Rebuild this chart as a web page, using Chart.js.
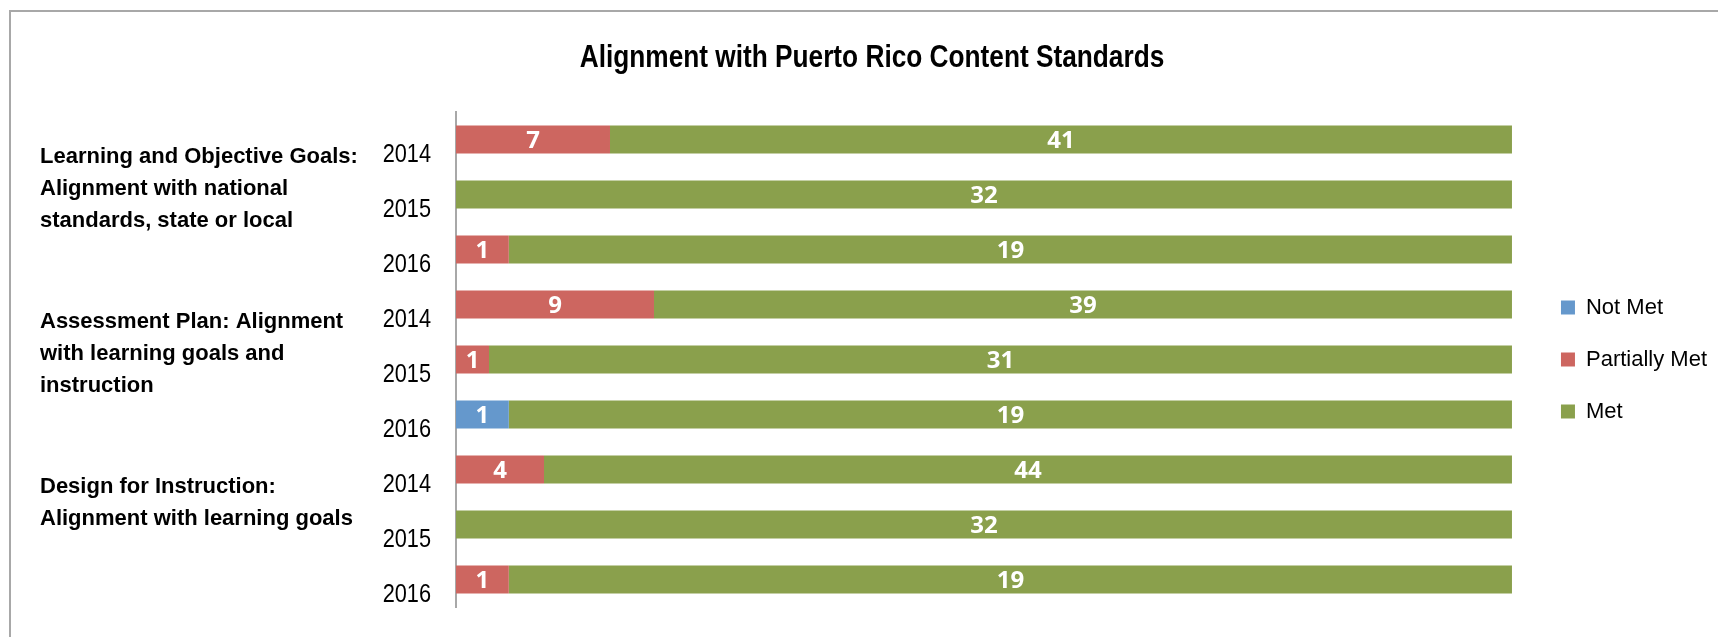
<!DOCTYPE html>
<html>
<head>
<meta charset="utf-8">
<title>Alignment with Puerto Rico Content Standards</title>
<script src="https://cdn.jsdelivr.net/npm/chart.js@4.4.1/dist/chart.umd.min.js"></script>
<style>
  html, body { margin: 0; padding: 0; background: #fff; }
  #wrap { position: relative; width: 1718px; height: 637px; overflow: hidden; }
  #frame { position: absolute; left: 9px; top: 10px; width: 1800px; height: 700px;
           border-left: 2px solid #a8a8a8; border-top: 2px solid #a8a8a8; }
  canvas { position: absolute; left: 0; top: 0; }
</style>
</head>
<body>
<div id="wrap">
  <div id="frame"></div>
  <canvas id="alignChart" width="1718" height="637"></canvas>
</div>
<script>
const chartTitle = 'Alignment with Puerto Rico Content Standards';

// rows top to bottom
const years = ['2014', '2015', '2016', '2014', '2015', '2016', '2014', '2015', '2016'];
const groupLabels = [
  ['Learning and Objective Goals:', 'Alignment with national', 'standards, state or local'],
  ['Assessment Plan: Alignment', 'with learning goals and', 'instruction'],
  ['Design for Instruction:', 'Alignment with learning goals']
];
const groupStartRows = [0, 3, 6];

const notMet       = [0, 0, 0, 0, 0, 1, 0, 0, 0];
const partiallyMet = [7, 0, 1, 9, 1, 0, 4, 0, 1];
const met          = [41, 32, 19, 39, 31, 19, 44, 32, 19];

const regular = '"Liberation Sans", Arial, sans-serif';

// 100% stacked: each row scaled to its own total
const totals = years.map((_, i) => notMet[i] + partiallyMet[i] + met[i]);
const toPct = arr => arr.map((v, i) => v / totals[i] * 100);

// no Arial Narrow here, so squeeze Liberation Sans sideways
function narrowText(ctx, text, x, y, align) {
  ctx.save();
  ctx.translate(x, y);
  ctx.scale(0.82, 1);
  ctx.textAlign = align;
  ctx.fillText(text, 0, 0);
  ctx.restore();
}

// white count labels in the middle of each segment
const barValueLabels = {
  id: 'barValueLabels',
  afterDatasetsDraw(chart) {
    const { ctx } = chart;
    ctx.save();
    ctx.font = 'bold 24px "Open Sans", sans-serif';
    ctx.fillStyle = '#fff';
    ctx.textAlign = 'center';
    ctx.textBaseline = 'middle';
    chart.data.datasets.forEach((ds, di) => {
      chart.getDatasetMeta(di).data.forEach((bar, i) => {
        const n = ds.counts[i];
        if (!n) return;
        ctx.fillText(String(n), (bar.x + bar.base) / 2, bar.y + 2);
      });
    });
    ctx.restore();
  }
};

// title, year ticks and the outer category labels
const axisText = {
  id: 'axisText',
  afterDraw(chart) {
    const { ctx, chartArea } = chart;
    const yScale = chart.scales.y;
    ctx.save();
    ctx.fillStyle = '#000';
    ctx.textBaseline = 'alphabetic';

    ctx.font = 'bold 32px ' + regular;
    narrowText(ctx, chartTitle, 872, 67, 'center');

    ctx.font = '26.5px ' + regular;
    chart.data.labels.forEach((label, i) => {
      narrowText(ctx, label, chartArea.left - 25, yScale.getPixelForValue(i) + 22.5, 'right');
    });

    ctx.font = 'bold 22px ' + regular;
    ctx.textAlign = 'left';
    groupLabels.forEach((lines, g) => {
      const y0 = yScale.getPixelForValue(groupStartRows[g]) + 23;
      lines.forEach((line, k) => ctx.fillText(line, 40, y0 + k * 32));
    });
    ctx.restore();
  }
};

const ctx = document.getElementById('alignChart').getContext('2d');

const chart = new Chart(ctx, {
  type: 'bar',
  data: {
    labels: years,
    datasets: [
      { label: 'Not Met', data: toPct(notMet), counts: notMet, backgroundColor: '#6598cc' },
      { label: 'Partially Met', data: toPct(partiallyMet), counts: partiallyMet, backgroundColor: '#cd6660' },
      { label: 'Met', data: toPct(met), counts: met, backgroundColor: '#8aa04c' }
    ]
  },
  options: {
    responsive: false,
    animation: false,
    indexAxis: 'y',
    categoryPercentage: 1,
    barPercentage: 0.51,
    borderWidth: 0,
    layout: { padding: { left: 0, right: 1, top: 112, bottom: 30 } },
    scales: {
      x: { stacked: true, min: 0, max: 100, display: false },
      y: {
        stacked: true,
        grid: { display: false },
        border: { display: true, color: '#a8a8a8', width: 2 },
        ticks: { display: false },
        afterFit(scale) {
          scale.width = 456;
          scale.paddingTop = 0;
          scale.paddingBottom = 0;
        }
      },
      // empty axis used only as a gap between the bars and the legend
      gap: {
        axis: 'y',
        type: 'linear',
        position: 'right',
        grid: { display: false },
        border: { display: false },
        ticks: { display: false },
        afterFit(scale) {
          scale.width = 19;
          scale.paddingTop = 0;
          scale.paddingBottom = 0;
        }
      }
    },
    plugins: {
      title: { display: false },
      legend: {
        position: 'right',
        fullSize: false,
        labels: {
          boxWidth: 14,
          boxHeight: 14,
          padding: 30,
          color: '#000',
          font: { family: regular, size: 22 }
        }
      },
      tooltip: { enabled: false }
    }
  },
  plugins: [barValueLabels, axisText]
});
</script>
</body>
</html>
